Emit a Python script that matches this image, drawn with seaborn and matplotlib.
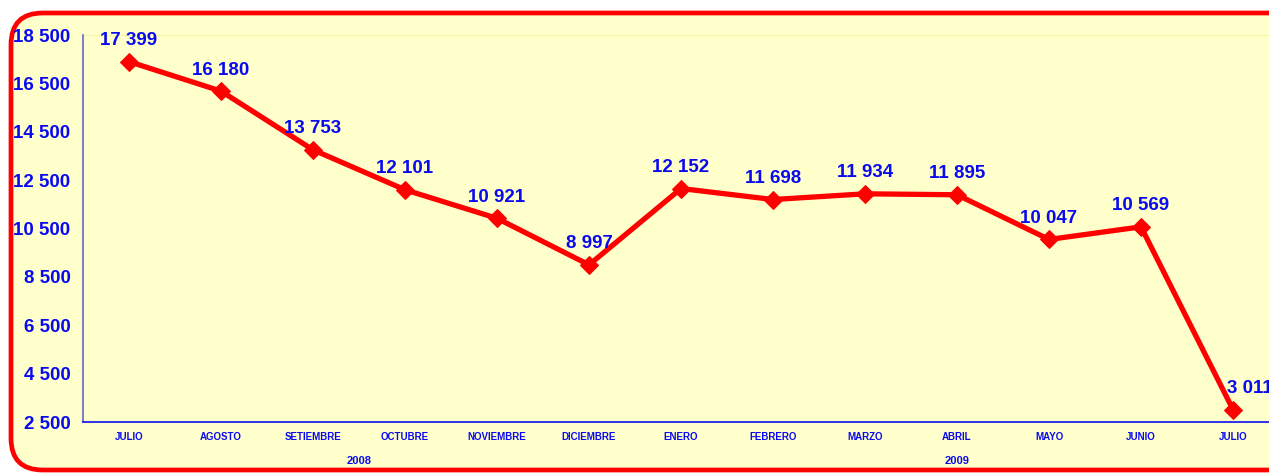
import numpy as np
import pandas as pd
import matplotlib
matplotlib.use("Agg")
import matplotlib.pyplot as plt
import seaborn as sns
from matplotlib.patches import FancyBboxPatch

# ===============================
# Data
# ===============================

months = ["JULIO", "AGOSTO", "SETIEMBRE", "OCTUBRE", "NOVIEMBRE", "DICIEMBRE",
          "ENERO", "FEBRERO", "MARZO", "ABRIL", "MAYO", "JUNIO", "JULIO"]
values = [17399, 16180, 13753, 12101, 10921, 8997,
          12152, 11698, 11934, 11895, 10047, 10569, 3011]
years = ["2008", "2009"]
year_counts = [6, 7]
y_ticks = [2500, 4500, 6500, 8500, 10500, 12500, 14500, 16500, 18500]

df = pd.DataFrame({"pos": np.arange(len(months)), "value": values})

blue = "#0A0AF0"
red = "#FF0000"
yellow = "#FFFFCC"

sns.set_style("white")
plt.rcParams["font.family"] = ["Liberation Sans", "DejaVu Sans"]

fig = plt.figure(figsize=(12.69, 4.73), dpi=100)
fig.patch.set_facecolor("white")

# rounded red border
border = FancyBboxPatch((11 / 1269, 3 / 473), 1300 / 1269, 457 / 473,
                        boxstyle="round,pad=0,rounding_size=0.025",
                        transform=fig.transFigure, facecolor=yellow,
                        edgecolor=red, linewidth=3.4, zorder=-10,
                        mutation_aspect=1269 / 473)
fig.patches.append(border)

ax = fig.add_axes([83 / 1269, 1 - 422 / 473, 1196 / 1269, 387 / 473])
ax.set_facecolor("none")
ax.set_zorder(5)

sns.lineplot(data=df, x="pos", y="value", ax=ax, color=red, linewidth=3.8,
             marker="D", markersize=9, markeredgecolor=red, zorder=3)

# data labels
for i, v in enumerate(values):
    dx = 0.18 if i == len(values) - 1 else 0
    ax.annotate(f"{v:,}".replace(",", " "), (i + dx, v), xytext=(0, 9),
                textcoords="offset points", ha="center", va="bottom",
                fontsize=13.5, fontweight="bold", color=blue, zorder=4)

ax.set_xlim(-0.5, len(months) - 0.5)
ax.set_ylim(2500, 18500)
ax.set_yticks(y_ticks)
ax.set_yticklabels([f"{t:,}".replace(",", " ") for t in y_ticks],
                   fontsize=13.5, fontweight="bold", color=blue)
ax.set_xticks(np.arange(len(months)))
ax.set_xticklabels(months, fontsize=7, fontweight="bold", color=blue)
ax.set_xticks(np.arange(-0.5, len(months), 1), minor=True)
ax.tick_params(axis="x", which="major", length=0, pad=7)
ax.tick_params(axis="x", which="minor", length=4, color=blue, direction="out")
ax.tick_params(axis="y", length=5, color="#6666CC", direction="out", pad=4)
ax.set_xlabel("")
ax.set_ylabel("")

for s in ["top", "right"]:
    ax.spines[s].set_visible(False)
ax.spines["left"].set_color("#6666CC")
ax.spines["left"].set_linewidth(1.2)
ax.spines["bottom"].set_color(blue)
ax.spines["bottom"].set_linewidth(1.2)
ax.axhline(18500, color="#F5F5A0", linewidth=1.5, zorder=1)

# year labels
start = -0.5
for yr, n in zip(years, year_counts):
    ax.text(start + n / 2, -0.1, yr, transform=ax.get_xaxis_transform(),
            ha="center", va="center", fontsize=8, fontweight="bold", color=blue)
    start += n

fig.savefig("out.png", dpi=100, facecolor=fig.get_facecolor())
